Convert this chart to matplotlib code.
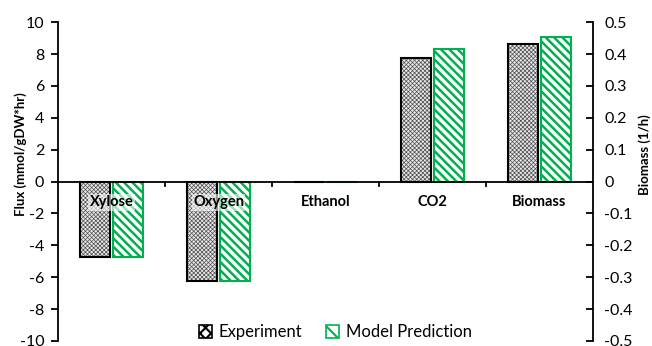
import matplotlib.pyplot as plt
import numpy as np
from matplotlib.patches import Patch

# dados
categorias = ["Xylose", "Oxygen", "Ethanol", "CO2", "Biomass"]
experimento = [-4.73, -6.25, 0.0, 7.72]        # mmol/gDW*hr
modelo = [-4.73, -6.25, 0.0, 8.32]
biomassa_exp = 0.43                              # 1/h (eixo secundario)
biomassa_mod = 0.453
ticks_esq = [-10, -8, -6, -4, -2, 0, 2, 4, 6, 8, 10]
ticks_dir = [-0.5, -0.4, -0.3, -0.2, -0.1, 0, 0.1, 0.2, 0.3, 0.4, 0.5]

plt.rcParams['font.family'] = ['Lato', 'DejaVu Sans']
plt.rcParams['axes.unicode_minus'] = False

verde = '#00b050'
cinza = '#505050'
larg = 0.28
desl = 0.15

fig = plt.figure(figsize=(6.52, 3.46), dpi=100)
ax = fig.add_axes([0.089, 0.0145, 0.8205, 0.9215])
ax2 = ax.twinx()

x = np.arange(len(categorias))
x1 = x[:4]

# experimento: hachura cinza + contorno preto
plt.rcParams['hatch.linewidth'] = 0.5
ax.bar(x1 - desl, experimento, larg, facecolor='#e8e8e8', edgecolor=cinza, hatch='xxxxxxxx', linewidth=0)
ax2.bar(x[4] - desl, biomassa_exp, larg, facecolor='#e8e8e8', edgecolor=cinza, hatch='xxxxxxxx', linewidth=0)
ax.bar(x1 - desl, experimento, larg, facecolor='none', edgecolor='black', linewidth=1.5)
ax2.bar(x[4] - desl, biomassa_exp, larg, facecolor='none', edgecolor='black', linewidth=1.5)

# modelo: listras verdes
plt.rcParams['hatch.linewidth'] = 1.8
ax.bar(x1 + desl, modelo, larg, facecolor='white', edgecolor=verde, hatch='\\\\\\\\', linewidth=1.5)
ax2.bar(x[4] + desl, biomassa_mod, larg, facecolor='white', edgecolor=verde, hatch='\\\\\\\\', linewidth=1.5)

ax.set_xlim(-0.5, len(categorias) - 0.5)
ax.set_ylim(-10, 10)
ax2.set_ylim(-0.5, 0.5)
ax.set_yticks(ticks_esq)
ax.set_yticklabels([str(t) for t in ticks_esq])
ax2.set_yticks(ticks_dir)
ax2.set_yticklabels(['0' if t == 0 else f'{t:g}' for t in ticks_dir])

for a in (ax, ax2):
    a.spines['top'].set_visible(False)
    a.spines['bottom'].set_visible(False)
ax.spines['right'].set_visible(False)
ax2.spines['left'].set_visible(False)
ax.spines['left'].set_linewidth(1.3)
ax2.spines['right'].set_linewidth(1.3)
ax2.axhline(0, color='black', linewidth=1.3, zorder=4)

# marcas nas fronteiras das categorias
ax.set_xticks(x[1:] - 0.5)
ax.set_xticklabels([])
ax.tick_params(axis='x', length=0)
for xb in x[1:] - 0.5:
    ax.plot([xb, xb], [0, -0.3], color='black', linewidth=1.3, zorder=3)

ax.tick_params(axis='y', direction='out', length=5, width=1.3, labelsize=11.5, pad=5)
ax2.tick_params(axis='y', direction='in', length=5, width=1.3, labelsize=11.5, pad=8)

for xi, nome in zip(x, categorias):
    ax2.text(xi, -0.065, nome, ha='center', va='center', fontsize=10.5, fontweight='bold',
             bbox=dict(boxstyle='square,pad=0.1', facecolor='white', edgecolor='none', alpha=0.6),
             zorder=5)

ax.set_ylabel('Flux (mmol/gDW*hr)', fontsize=9.5, fontweight='bold')
ax.yaxis.set_label_coords(-0.058, 0.585)
ax2.set_ylabel('Biomass (1/h)', fontsize=9.5, fontweight='bold')
ax2.yaxis.set_label_coords(1.084, 0.585)

plt.rcParams['hatch.linewidth'] = 1.0
h1 = Patch(facecolor='white', edgecolor='black', hatch='xxx', linewidth=1.2)
plt.rcParams['hatch.linewidth'] = 1.5
h2 = Patch(facecolor='white', edgecolor=verde, hatch='\\\\', linewidth=1.2)
ax2.legend([h1, h2], ['Experiment', 'Model Prediction'], loc='center', bbox_to_anchor=(0.518, 0.027),
           ncol=2, frameon=False, fontsize=12, handlelength=0.8, handleheight=0.8,
           handletextpad=0.4, columnspacing=1.4)

fig.savefig('out.png', dpi=100)
